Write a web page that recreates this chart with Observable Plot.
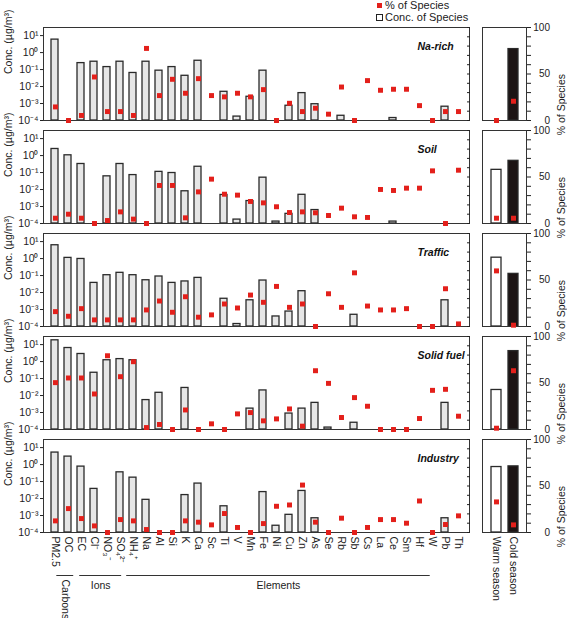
<!DOCTYPE html>
<html><head><meta charset="utf-8">
<script src="https://cdn.jsdelivr.net/npm/d3@7"></script>
<script src="https://cdn.jsdelivr.net/npm/@observablehq/plot@0.6"></script>
<style>
html,body{margin:0;padding:0;background:#fff;}
#wrap{position:relative;width:567px;height:618px;overflow:hidden;font-family:"Liberation Sans",Arial,sans-serif;color:#222;}
#wrap > *{position:absolute;}
.leg{font-size:11px;line-height:12px;}
.leg div{position:absolute;white-space:nowrap;}
</style></head><body><div id="wrap"></div>
<script>
// ---------- data ----------
const species = ["PM2.5","OC","EC","Cl⁻","NO₃⁻","SO₄²⁻","NH₄⁺","Na","Al","Si","K","Ca","Sc","Ti","V","Mn","Fe","Ni","Cu","Zn","As","Se","Rb","Sb","Cs","La","Ce","Sm","Hf","W","Pb","Th"];
const sources = ["Na-rich","Soil","Traffic","Solid fuel","Industry"];
const seasons = ["Warm season","Cold season"];

// concentration of species (µg/m³), null = no bar
const concNaRich = [5.8,null,0.24,0.29,0.14,0.29,0.063,0.29,0.086,0.14,0.043,0.33,null,0.0049,0.00017,0.0025,0.086,null,0.00074,0.0041,0.00091,null,0.00019,null,null,null,0.00014,null,null,null,0.00065,null];
const concSoil = [2.45,1.04,0.32,null,0.06,0.32,0.071,null,0.11,0.094,0.0079,0.22,null,0.0048,0.00017,0.0021,0.05,0.00013,0.00037,0.0049,0.00062,null,null,null,null,null,0.00013,null,null,null,null,null];
const concTraffic = [6.1,1.1,0.95,0.037,0.105,0.145,0.105,0.053,0.088,0.037,0.045,0.073,null,0.0043,0.00014,0.0035,0.051,0.00039,0.00076,0.012,null,null,null,0.00049,null,null,null,null,null,null,0.0035,null];
const concSolidFuel = [17.9,6.3,2.8,0.22,1.2,1.4,1.2,0.0054,0.0145,null,0.028,null,null,null,null,0.0017,0.02,null,0.00087,0.0017,0.0037,0.00013,null,0.00025,null,null,null,null,null,null,0.0037,null];
const concIndustry = [5.1,2.95,0.76,0.037,null,0.35,0.17,0.0084,null,null,0.016,0.076,null,0.0035,null,null,0.024,0.00025,0.0011,0.028,0.00069,null,null,null,null,null,null,null,null,null,0.00069,null];

// % of species
const pctNaRich = [14.6,0,5.4,46.8,9.6,9.6,5.4,77.5,26.8,44.3,29.3,45,26.8,25.4,29.3,25.4,33.2,0,18.5,9.6,13.2,6.8,36,0,42.9,32.5,33.6,33.6,16,0,9.6,9.6];
const pctSoil = [5.7,10,5.7,0,3.2,12.5,4.7,0,40.9,40.9,6.1,34,47.7,31.5,30.5,23.7,22.2,18,11.8,12.5,11.5,8.6,16.5,7.2,6.5,36.6,35.5,38,38,56.6,0,57.3];
const pctTraffic = [16,11,19.2,7.1,7.1,7.1,7.1,17.8,27.4,15.3,32,10,12.5,24.2,19.9,33.8,26,43.1,20.6,24.2,0,35.2,20.6,57.7,22,17.8,17.8,19.2,0,0,40.6,2.8];
const pctSolidFuel = [50.4,55.4,55.4,38.2,79.3,56.8,72.9,2.1,5.4,0,21,0,6.1,0,16.8,18.2,9.3,11.4,22.1,3.6,63.2,49.6,12.9,34.3,25,0,0,0,11.8,42.1,43.2,14.3];
const pctIndustry = [12.5,25.7,15,7.1,0,13.9,12.5,3.2,0,0,12.5,11.1,8.2,20.4,5.4,0,9.6,28.2,29.6,51,11.1,0,15.4,0,5.4,13.9,13.9,10,33.9,0,8.6,17.9];

// season panel: bar (% of species) and red marker (% of species), [warm, cold]
const seasonBarNaRich = [null,76.8], seasonPctNaRich = [0,20.7];
const seasonBarSoil = [57.7,67.4], seasonPctSoil = [5.7,5.7];
const seasonBarTraffic = [74,56.6], seasonPctTraffic = [59.8,1.4];
const seasonBarSolidFuel = [42.5,84.3], seasonPctSolidFuel = [1.4,63.2];
const seasonBarIndustry = [70.4,71.1], seasonPctIndustry = [32.9,8.2];

// axes
const concDomain = [1e-4, 30];
const concTicks = [1e-4,1e-3,1e-2,1e-1,1,10];
const concLabel = "Conc. (µg/m³)";
const pctDomain = [0,100];
const pctTicks = [0,10,20,30,40,50,60,70,80,90,100];
const pctLabels = [0,50,100];
const pctLabel = "% of Species";

// species groups (span in species-index units, as drawn)
const groupNames = ["Carbons","Ions","Elements"];
const groupStart = [1.0,2.72,6.25];
const groupEnd = [2.27,5.87,29.05];

// ---------- build tables ----------
const concAll = [concNaRich,concSoil,concTraffic,concSolidFuel,concIndustry];
const pctAll = [pctNaRich,pctSoil,pctTraffic,pctSolidFuel,pctIndustry];
const sBarAll = [seasonBarNaRich,seasonBarSoil,seasonBarTraffic,seasonBarSolidFuel,seasonBarIndustry];
const sPctAll = [seasonPctNaRich,seasonPctSoil,seasonPctTraffic,seasonPctSolidFuel,seasonPctIndustry];

const concRows = sources.flatMap((s,i)=>species.map((sp,j)=>({source:s,species:sp,value:concAll[i][j]}))).filter(d=>d.value!=null);
const pctRows = sources.flatMap((s,i)=>species.map((sp,j)=>({source:s,species:sp,value:pctAll[i][j]}))).filter(d=>d.value!=null);
const sBarRows = sources.flatMap((s,i)=>seasons.map((se,j)=>({source:s,season:se,value:sBarAll[i][j]}))).filter(d=>d.value!=null);
const sPctRows = sources.flatMap((s,i)=>seasons.map((se,j)=>({source:s,season:se,value:sPctAll[i][j]}))).filter(d=>d.value!=null);
const groups = groupNames.map((n,i)=>({name:n,start:groupStart[i],end:groupEnd[i]}));

// ---------- styling ----------
const FONT = '"Liberation Sans",Arial,sans-serif';
const RED = "#e3201b";
const EDGE = "#2a2a2a";
const H = 574, MT = 26, MB = 40;
const sup = {"-":"⁻","0":"⁰","1":"¹","2":"²","3":"³","4":"⁴","5":"⁵","6":"⁶","7":"⁷","8":"⁸","9":"⁹"};
const fmtPow = d => "10" + String(Math.round(Math.log10(d))).split("").map(c=>sup[c]).join("");

const common = {
  height: H, marginTop: MT, marginBottom: MB,
  fy: {domain: sources, paddingInner: 0.0966, paddingOuter: 0, axis: null, label: null},
  style: {fontFamily: FONT, fontSize: "10.5px", color: "#222", background: "transparent", overflow: "visible"}
};
const xMain = {domain: species, paddingInner: 0.45, paddingOuter: 0.225, label: null};

const wrap = document.getElementById("wrap");
function place(el, left, top){ el.style.left = left+"px"; el.style.top = top+"px"; wrap.appendChild(el); }

// main bars (log scale)
const barsPlot = Plot.plot({
  ...common, width: 476, marginLeft: 43, marginRight: 7,
  x: xMain,
  y: {type: "log", domain: concDomain, label: null},
  marks: [
    Plot.barY(concRows, {x: "species", y1: concDomain[0], y2: "value", fy: "source", fill: "#e6e6e6", stroke: EDGE, strokeWidth: 1.3}),
    Plot.frame({stroke: "#333"}),
    Plot.axisY({ticks: concTicks, tickFormat: fmtPow, tickSize: 3, tickPadding: 2, label: null}),
    Plot.text(sources, {fy: d=>d, text: () => concLabel, frameAnchor: "left", rotate: -90, dx: -35, fill: "#222"}),
    Plot.axisX({tickRotate: 90, tickSize: 0, tickPadding: 4, label: null}),
    Plot.text(sources, {fy: d=>d, text: d=>d, frameAnchor: "top-right", textAnchor: "start", dx: -52, dy: 15, fontWeight: "bold", fontStyle: "italic", fontSize: 10.5, fill: "#111"})
  ]
});
place(barsPlot, 0, 0);

// main % markers (linear overlay)
const pctPlot = Plot.plot({
  ...common, width: 476, marginLeft: 43, marginRight: 7,
  x: {...xMain, axis: null},
  y: {domain: pctDomain, axis: null},
  marks: [
    Plot.axisY({anchor: "right", ticks: pctTicks, tickSize: -3, tickFormat: () => "", label: null}),
    Plot.dot(pctRows, {x: "species", y: "value", fy: "source", symbol: "square", r: 2.8, fill: RED})
  ]
});
place(pctPlot, 0, 0);

// season panel
const seasonPlot = Plot.plot({
  ...common, width: 91, marginLeft: 6, marginRight: 41,
  x: {domain: seasons, paddingInner: 0.43, paddingOuter: 0.5, label: null},
  y: {domain: pctDomain, label: null},
  color: {domain: seasons, range: ["#ffffff", "#1c1414"]},
  marks: [
    Plot.barY(sBarRows, {x: "season", y: "value", fy: "source", fill: "season", stroke: EDGE, strokeWidth: 1.3}),
    Plot.frame({stroke: "#333"}),
    Plot.dot(sPctRows, {x: "season", y: "value", fy: "source", symbol: "square", r: 2.8, fill: RED}),
    Plot.axisY({anchor: "right", ticks: pctTicks, tickSize: 4, tickPadding: 19.5, textAnchor: "end", fontSize: 10, tickFormat: d => pctLabels.includes(d) ? d : "", label: null}),
    Plot.text(sources, {fy: d=>d, text: () => pctLabel, frameAnchor: "right", rotate: -90, dx: 35, fill: "#222"}),
    Plot.axisX({tickRotate: 90, tickSize: 0, tickPadding: 4, label: null})
  ]
});
place(seasonPlot, 476, 0);

// species groups under the axis
const groupPlot = Plot.plot({
  width: 476, height: 52, marginLeft: 43, marginRight: 7, marginTop: 0, marginBottom: 43,
  x: {domain: [0, species.length], axis: null},
  y: {domain: [0, 1], axis: null},
  style: {fontFamily: FONT, fontSize: "10.5px", color: "#222", background: "transparent", overflow: "visible"},
  marks: [
    Plot.ruleY(groups, {x1: "start", x2: "end", y: () => 0, stroke: "#333", strokeWidth: 1}),
    Plot.text(groups.filter(g => g.end - g.start >= 2), {x: g => (g.start+g.end)/2, y: () => 0, text: "name", dy: 10, fill: "#222"}),
    Plot.text(groups.filter(g => g.end - g.start < 2), {x: g => (g.start+g.end)/2, y: () => 0, text: "name", rotate: 90, textAnchor: "start", dy: 4, fill: "#222"})
  ]
});
place(groupPlot, 0, 566);

// legend
const leg = document.createElement("div");
leg.className = "leg";
leg.innerHTML = `
<div style="left:1px;top:3px;width:5px;height:5px;background:${RED}"></div>
<div style="left:9px;top:-1px;">% of Species</div>
<div style="left:0px;top:14px;width:5px;height:5px;border:1px solid #222;background:#fff"></div>
<div style="left:9px;top:11px;">Conc. of Species</div>`;
place(leg, 376, 0);
</script>
</body></html>
